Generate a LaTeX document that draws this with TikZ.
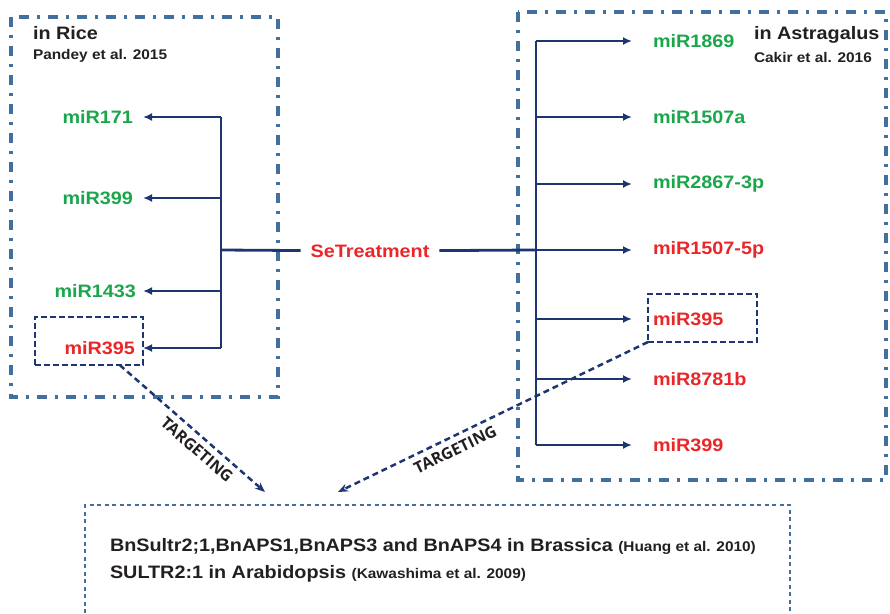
\documentclass[tikz,border=0pt]{standalone}
\usepackage{fontspec}
\usepackage{tikz}
\usetikzlibrary{arrows.meta}
\newfontfamily\wide{Liberation Sans}[FakeStretch=1.1]
\newfontfamily\tagfont{Open Sans}
\definecolor{mirgreen}{HTML}{1BA64C}
\definecolor{mirred}{HTML}{EA2629}
\definecolor{treenavy}{HTML}{1D3570}
\definecolor{boxblue}{HTML}{41709C}
\definecolor{inkgray}{HTML}{231F20}

\begin{document}
\begin{tikzpicture}[x=1pt, y=-1pt,
    every node/.style={font=\wide\bfseries\fontsize{18}{20}\selectfont, inner sep=0pt, outer sep=0pt},
    up/.style={text=mirgreen}, down/.style={text=mirred},
    ref/.style={font=\wide\bfseries\fontsize{14}{16}\selectfont, text=inkgray},
    trunk/.style={treenavy, line width=2.8pt},
    branch/.style={trunk, -{Latex[length=9pt,width=8pt]}},
    group/.style={boxblue, line width=3.5pt, dash pattern=on 10pt off 8pt on 3pt off 8pt},
    hitbox/.style={draw=treenavy, line width=2.5pt, dash pattern=on 6pt off 3pt, minimum width=108pt, minimum height=48pt},
    target/.style={treenavy, line width=2.5pt, dash pattern=on 6pt off 4pt, -{Stealth[length=10pt,width=8pt]}},
    tagtext/.style={font=\tagfont\bfseries\fontsize{16}{18}\selectfont, text=inkgray}]
    \useasboundingbox (0,0) rectangle (890,613);
    \def\lx{221}
    \def\rx{536}

    \draw[group] (11,17) rectangle (278,397);
    \draw[group] (518,12) rectangle (886,480);
    \draw[boxblue, line width=2.5pt, dash pattern=on 4pt off 3.5pt] (85,613) -- (85,505) -- (790,505) -- (790,613);

    \node[anchor=west, text=inkgray] (rice) at (33,33) {in Rice};
    \node[ref, anchor=west] (pandey) at (33,56) {Pandey et al. 2015};
    \node[anchor=west, text=inkgray] (astra) at (754,35) {in Astragalus};
    \node[ref, anchor=west] (cakir) at (754,57) {Cakir et al. 2016};

    \node[down, inner xsep=10pt] (se) at (370,251) {SeTreatment};
    \coordinate (lj) at (\lx,250);
    \coordinate (rj) at (\rx,250);
    \draw[trunk] (lj) -- (se) -- (rj);

    \node[hitbox] (ricebox) at (89,341) {};
    \node[hitbox, minimum width=109pt] (astrabox) at (702.5,318) {};

    \coordinate (l1) at (\lx,117);
    \coordinate (l2) at (\lx,198);
    \coordinate (l3) at (\lx,291);
    \coordinate (l4) at (\lx,348);
    \node[up, anchor=east, inner xsep=10pt] (r171) at (143,117) {miR171};
    \node[up, anchor=east, inner xsep=10pt] (r399) at (143,198) {miR399};
    \node[up, anchor=east, inner xsep=7pt] (r1433) at (143,291) {miR1433};
    \node[down, anchor=east, inner xsep=8pt] (r395) at (143,348) {miR395};
    \draw[trunk] (l1) -- (l4);
    \draw[branch] (l1) -- (r171);
    \draw[branch] (l2) -- (r399);
    \draw[branch] (l3) -- (r1433);
    \draw[branch] (l4) -- (r395);

    \coordinate (a1) at (\rx,41);
    \coordinate (a2) at (\rx,117);
    \coordinate (a3) at (\rx,184);
    \coordinate (a4) at (\rx,250);
    \coordinate (a5) at (\rx,319);
    \coordinate (a6) at (\rx,379);
    \coordinate (a7) at (\rx,445);
    \node[up, anchor=west, inner xsep=21pt] (m1869) at (632,41) {miR1869};
    \node[up, anchor=west, inner xsep=21pt] (m1507a) at (632,117) {miR1507a};
    \node[up, anchor=west, inner xsep=21pt] (m2867) at (632,184) {miR2867-3p};
    \node[down, anchor=west, inner xsep=21pt] (m1507) at (632,250) {miR1507-5p};
    \node[down, anchor=west, inner xsep=21pt] (m395) at (632,319) {miR395};
    \node[down, anchor=west, inner xsep=21pt] (m8781) at (632,379) {miR8781b};
    \node[down, anchor=west, inner xsep=21pt] (m399) at (632,445) {miR399};
    \draw[trunk] (a1) -- (a7);
    \draw[branch] (a1) -- (m1869);
    \draw[branch] (a2) -- (m1507a);
    \draw[branch] (a3) -- (m2867);
    \draw[branch] (a4) -- (m1507);
    \draw[branch] (a5) -- (m395);
    \draw[branch] (a6) -- (m8781);
    \draw[branch] (a7) -- (m399);

    \coordinate (tl) at (265,492);
    \coordinate (tr) at (338,492);
    \draw[target] (ricebox.-38) -- (tl) node[tagtext, pos=0.59, sloped, below=7pt] {TARGETING};
    \draw[target] (astrabox.south west) -- (tr) node[tagtext, pos=0.64, sloped, below=7pt] {TARGETING};

    \node[anchor=west, align=left, text=inkgray, font=\wide\bfseries\fontsize{18}{27}\selectfont] (targets) at (110,560)
        {BnSultr2;1,BnAPS1,BnAPS3 and BnAPS4 in Brassica {\fontsize{14}{16}\selectfont (Huang et al. 2010)}\\
         SULTR2:1 in Arabidopsis {\fontsize{14}{16}\selectfont (Kawashima et al. 2009)}};
\end{tikzpicture}
\end{document}
